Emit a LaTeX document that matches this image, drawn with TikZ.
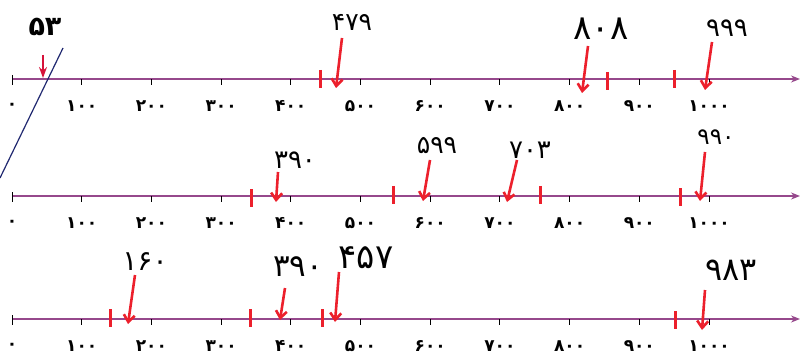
\documentclass[tikz,border=0pt]{standalone}
\usepackage{fontspec}
\newfontfamily\fadigits{DejaVu Sans}
\usetikzlibrary{arrows.meta}
\usepackage{xcolor}
\definecolor{axpurple}{RGB}{150,72,140}
\definecolor{mred}{RGB}{236,32,44}
\definecolor{mcrimson}{RGB}{214,18,58}
\definecolor{mnavy}{RGB}{32,40,112}

\begin{document}
\begin{tikzpicture}[x=1pt,y=-1pt,
  axis/.style={draw=axpurple,line width=1.3pt,-{Stealth[length=9pt,width=7pt]}},
  tickmark/.style={black,line width=0.9pt},
  ticklabel/.style={font=\fadigits\bfseries\fontsize{17}{17}\selectfont,inner sep=0pt},
  redbar/.style={mred,line width=3pt},
  redarrow/.style={mred,line width=2.6pt,-{Straight Barb[length=7pt,width=11pt]}},
  numlabel/.style={font=\fadigits\fontsize{26}{26}\selectfont,inner sep=0pt},
]
\useasboundingbox (0,0) rectangle (805,358);

% three number lines
\foreach \r/\y in {1/79,2/196,3/319}{
  \coordinate (s\r) at (12,\y);
  \coordinate (e\r) at (800,\y);
  \draw[axis] (s\r) -- (e\r);
  \foreach \v/\t in {0/۰,100/۱۰۰,200/۲۰۰,300/۳۰۰,400/۴۰۰,500/۵۰۰,
                     600/۶۰۰,700/۷۰۰,800/۸۰۰,900/۹۰۰,1000/۱۰۰۰}{
    \draw[tickmark] (12+0.697*\v,\y) -- ++(0,6);
    \node[ticklabel] (l\r-\v) at (12+0.697*\v,\y+27) {\t};
  }
  \draw[tickmark] (12,\y-4) -- (12,\y);
}

% red bars
\foreach \x/\y in {320/79,607/81,674/79,251/198,393/195,540/195,680/197,
                   110/318,250/318,322/318,675/320}
  \draw[redbar] (\x,\y-9) -- (\x,\y+9);

% line 1
\coordinate (c1) at (63,48);
\coordinate (c2) at (0,178);
\draw[mnavy,line width=1.2pt] (c1) -- (c2);
\node[numlabel,font=\fadigits\bfseries\fontsize{27}{27}\selectfont] (n53) at (45,27) {۵۳};
\coordinate (t53) at (43,55);
\coordinate (h53) at (43,78);
\draw[mcrimson,line width=1.3pt,-{Stealth[length=11pt,width=8pt]}] (t53) -- (h53);

\node[numlabel,font=\fadigits\fontsize{25}{25}\selectfont] (n479) at (352,22) {۴۷۹};
\coordinate (t479) at (342,38);
\coordinate (h479) at (336,88);
\draw[redarrow] (t479) -- (h479);

\node[numlabel,font=\fadigits\fontsize{34}{34}\selectfont] (n808) at (601,29) {۸۰۸};
\coordinate (t808) at (588,46);
\coordinate (h808) at (582,93);
\draw[redarrow] (t808) -- (h808);

\node[numlabel] (n999) at (727,28) {۹۹۹};
\coordinate (t999) at (712,42);
\coordinate (h999) at (705,90);
\draw[redarrow] (t999) -- (h999);

% line 2
\node[numlabel] (n390a) at (295,160) {۳۹۰};
\coordinate (t390a) at (278,172);
\coordinate (h390a) at (276,202);
\draw[redarrow] (t390a) -- (h390a);

\node[numlabel,font=\fadigits\fontsize{25}{25}\selectfont] (n599) at (437,146) {۵۹۹};
\coordinate (t599) at (430,160);
\coordinate (h599) at (423,201);
\draw[redarrow] (t599) -- (h599);

\node[numlabel] (n703) at (530,150) {۷۰۳};
\coordinate (t703) at (517,160);
\coordinate (h703) at (507,202);
\draw[redarrow] (t703) -- (h703);

\node[numlabel,font=\fadigits\fontsize{23}{23}\selectfont] (n990) at (716,137) {۹۹۰};
\coordinate (t990) at (705,152);
\coordinate (h990) at (700,201);
\draw[redarrow] (t990) -- (h990);

% line 3
\node[numlabel,font=\fadigits\fontsize{28}{28}\selectfont] (n160) at (145,262) {۱۶۰};
\coordinate (t160) at (135,275);
\coordinate (h160) at (128,324);
\draw[redarrow] (t160) -- (h160);

\node[numlabel,font=\fadigits\fontsize{31}{31}\selectfont] (n390b) at (298,267) {۳۹۰};
\coordinate (t390b) at (285,288);
\coordinate (h390b) at (280,320);
\draw[redarrow] (t390b) -- (h390b);

\node[numlabel,font=\fadigits\fontsize{34}{34}\selectfont] (n457) at (366,258) {۴۵۷};
\coordinate (t457) at (339,272);
\coordinate (h457) at (335,322);
\draw[redarrow] (t457) -- (h457);

\node[numlabel,font=\fadigits\fontsize{32}{32}\selectfont] (n983) at (731,270) {۹۸۳};
\coordinate (t983) at (705,290);
\coordinate (h983) at (702,330);
\draw[redarrow] (t983) -- (h983);
\end{tikzpicture}
\end{document}
